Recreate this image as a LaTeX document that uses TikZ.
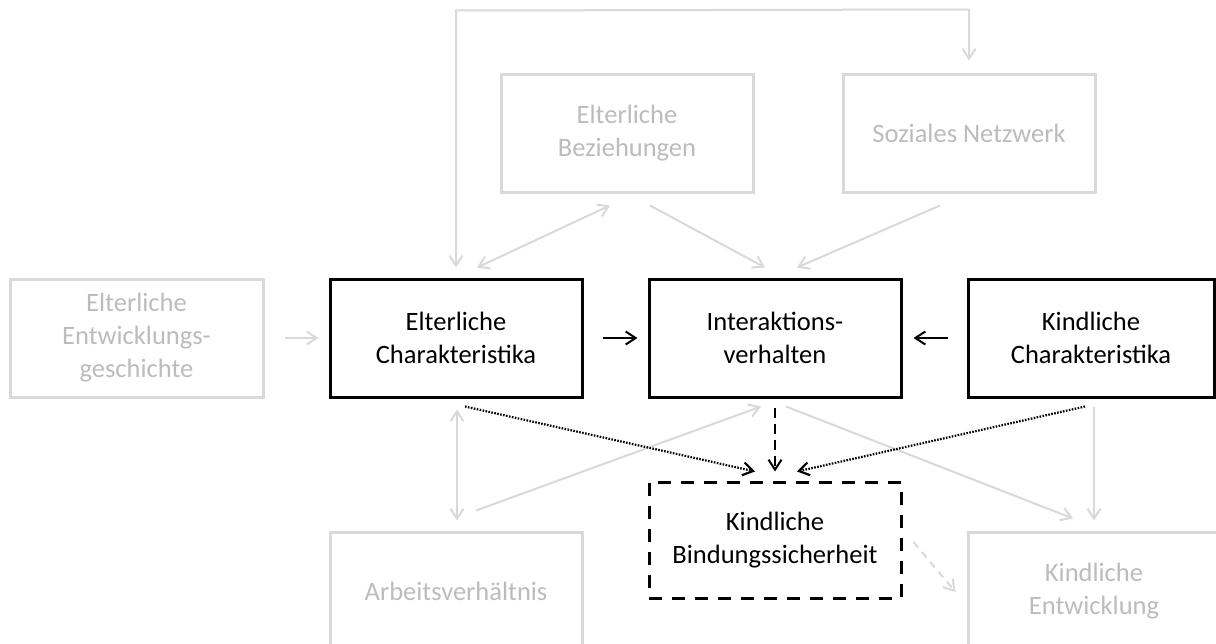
\documentclass[tikz,border=0pt]{standalone}
\usepackage{fontspec}
\setmainfont{Carlito}
\usetikzlibrary{arrows.meta,calc}
\definecolor{boxgray}{RGB}{217,217,217}
\definecolor{labelgray}{RGB}{188,188,188}
\begin{document}
\begin{tikzpicture}[x=1pt,y=-1pt,
  every node/.style={font=\fontsize{26.5}{33}\selectfont, align=center, inner sep=0pt},
  keybox/.style={draw=black, line width=3pt, minimum width=252pt, minimum height=118pt},
  ctxbox/.style={draw=boxgray, line width=3pt, text=labelgray, minimum width=252pt, minimum height=118pt},
  barb/.tip={Straight Barb[length=10pt,width=13pt]},
  darkflow/.style={draw=black, line width=2pt},
  lightflow/.style={draw=boxgray, line width=2pt},
  dotflow/.style={draw=black, line width=2.2pt, dash pattern=on 1.6pt off 1.4pt},
  dashflow/.style={draw=black, line width=2pt, dash pattern=on 10pt off 6pt},
  lightdash/.style={draw=boxgray, line width=2pt, dash pattern=on 7pt off 6pt}
]
\clip (0,0) rectangle (1216,643);
\fill[white] (0,0) rectangle (1216,643);

% context boxes (grey)
\node[ctxbox] (bez) at (627,133) {Elterliche\\Beziehungen};
\node[ctxbox] (soz) at (969,133) {Soziales Netzwerk};
\node[ctxbox, minimum width=253pt] (entw) at (136.5,338) {Elterliche\\Entwicklungs-\\geschichte};
\node[ctxbox] (arb) at (456,591) {Arbeitsverhältnis};
\node[ctxbox] (kentw) at (1094,591) {Kindliche\\Entwicklung};

% core boxes (black)
\node[keybox] (ech) at (456,338) {Elterliche\\Charakteristika};
\node[keybox] (inter) at (775,338) {Interaktions-\\verhalten};
\node[keybox, minimum width=246pt] (kch) at (1091,338) {Kindliche\\Charakteristika};
\node[keybox, dash pattern=on 13pt off 10pt, minimum height=116pt] (bind) at (775,540) {Kindliche\\Bindungssicherheit};

% feedback loop over the top
\coordinate (loopL) at ($(ech.north)+(0,-267)$);
\coordinate (loopR) at ($(soz.north)+(0,-63)$);
\draw[lightflow, barb-barb] ($(ech.north)+(0,-10)$) -- (loopL) -- (loopR) -- ($(soz.north)+(0,-12)$);

% grey influences
\draw[lightflow, barb-barb] ($(ech.north)+(21,-10)$) -- ($(bez.south)+(-17,12)$);
\draw[lightflow, -barb] ($(bez.south)+(23,12)$) -- ($(inter.north)+(-10,-10)$);
\draw[lightflow, -barb] ($(soz.south)+(-29,12)$) -- ($(inter.north)+(22,-10)$);
\draw[lightflow, -barb] ($(entw.east)+(20,0)$) -- ($(ech.west)+(-10,0)$);
\draw[lightflow, barb-barb] ($(ech.south)+(1,11)$) -- ($(arb.north)+(1,-10)$);
\draw[lightflow, -barb] ($(arb.north)+(20,-20)$) -- ($(inter.south)+(-14,8)$);
\draw[lightflow, -barb] ($(inter.south)+(11,8)$) -- ($(kentw.north)+(-21,-12)$);
\draw[lightflow, -barb] ($(kentw.north |- kch.south)+(0,8)$) -- ($(kentw.north)+(0,-10)$);
\draw[lightdash, -barb] ($(bind.east)+(11,2)$) -- ($(kentw.west)+(-11,1)$);

% core influences
\draw[darkflow, -barb] ($(ech.east)+(19,0)$) -- ($(inter.west)+(-10,0)$);
\draw[darkflow, -barb] ($(kch.west)+(-19,0)$) -- ($(inter.east)+(11,0)$);
\draw[dashflow, -barb] ($(inter.south)+(0,9)$) -- ($(bind.north)+(0,-9)$);
\draw[dotflow, -barb] ($(ech.south)+(9,8)$) -- ($(bind.north)+(-20,-9)$);
\draw[dotflow, -barb] ($(kch.south)+(-6,8)$) -- ($(bind.north)+(22,-9)$);
\end{tikzpicture}
\end{document}
